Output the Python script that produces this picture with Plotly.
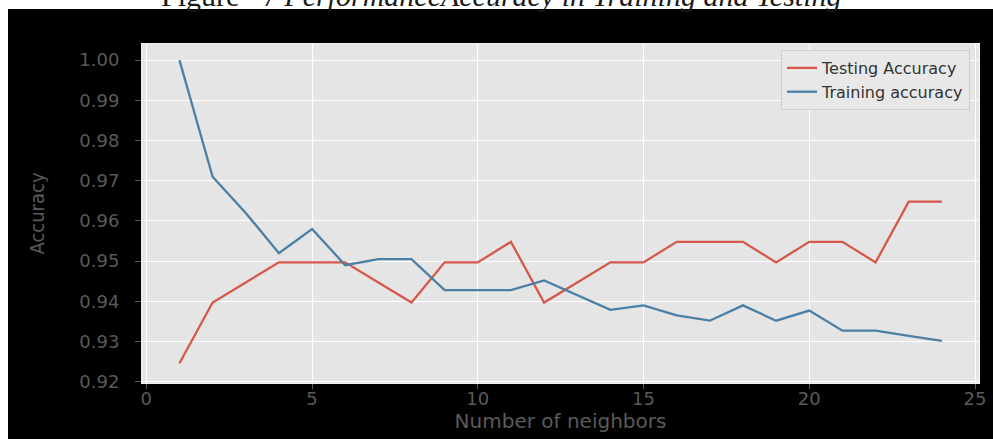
import plotly.graph_objects as go

neighbors = list(range(1, 25))
testing_accuracy = [0.9246, 0.9397, 0.9447, 0.9497, 0.9497, 0.9497, 0.9447, 0.9397,
                    0.9497, 0.9497, 0.9548, 0.9397, 0.9447, 0.9497, 0.9497, 0.9548,
                    0.9548, 0.9548, 0.9497, 0.9548, 0.9548, 0.9497, 0.9648, 0.9648]
training_accuracy = [1.0000, 0.9710, 0.9620, 0.9520, 0.9580, 0.9490, 0.9505, 0.9505,
                     0.9428, 0.9428, 0.9428, 0.9452, 0.9415, 0.9379, 0.9390, 0.9365,
                     0.9352, 0.9390, 0.9352, 0.9377, 0.9327, 0.9327, 0.9314, 0.9302]
x_ticks = [0, 5, 10, 15, 20, 25]
y_ticks = [0.92, 0.93, 0.94, 0.95, 0.96, 0.97, 0.98, 0.99, 1.00]

W, H = 993, 439
L, R, T, B = 142, 14, 44, 56
pw, ph = W - L - R, H - T - B

def px_x(p):
    return (p - L) / pw

def px_y(p):
    return (H - B - p) / ph

fig = go.Figure()
fig.add_trace(go.Scatter(x=neighbors, y=testing_accuracy, mode="lines",
                         name="Testing Accuracy",
                         line=dict(color="#D5584A", width=2.3)))
fig.add_trace(go.Scatter(x=neighbors, y=training_accuracy, mode="lines",
                         name="Training accuracy",
                         line=dict(color="#4A7FA6", width=2.3)))

tick_font = dict(family="DejaVu Sans", size=18, color="#5a5a5a")

fig.update_layout(
    width=W, height=H,
    margin=dict(l=L, r=R, t=T, b=B, autoexpand=False),
    paper_bgcolor="black",
    plot_bgcolor="#E5E5E5",
    showlegend=True,
    legend=dict(x=px_x(970), y=px_y(50), xanchor="right", yanchor="top",
                bgcolor="#E8E8E8", bordercolor="#CFCFCF", borderwidth=1,
                font=dict(family="DejaVu Sans", size=16, color="#333333"),
                tracegroupgap=0),
    xaxis=dict(range=[-0.13, 25.12], tickvals=x_ticks, ticktext=[str(v) for v in x_ticks],
               showgrid=True, gridcolor="white", gridwidth=1.2, zeroline=False,
               ticks="outside", ticklen=5, tickcolor="#5a5a5a", tickwidth=1,
               tickfont=tick_font, ticklabelstandoff=-6,
               showline=True, linecolor="#F2F2F2", linewidth=1, mirror=True,
               title=dict(text="Number of neighbors", standoff=6,
                          font=dict(family="DejaVu Sans", size=20, color="#5a5a5a")),
               automargin=False),
    yaxis=dict(range=[0.9197, 1.004], tickvals=y_ticks, tickformat=".2f",
               showgrid=True, gridcolor="white", gridwidth=1.2, zeroline=False,
               ticks="outside", ticklen=6, tickcolor="#5a5a5a", tickwidth=1,
               tickfont=tick_font, ticklabelstandoff=12,
               showline=True, linecolor="#F2F2F2", linewidth=1, mirror=True,
               title=dict(text="Accuracy", standoff=29,
                          font=dict(family="DejaVu Sans Condensed", size=20, color="#5a5a5a")),
               automargin=False),
    shapes=[
        dict(type="rect", xref="paper", yref="paper", layer="above",
             x0=px_x(-5), x1=px_x(W + 5), y0=px_y(9), y1=px_y(-5),
             fillcolor="white", line=dict(width=0)),
        dict(type="rect", xref="paper", yref="paper", layer="above",
             x0=px_x(-5), x1=px_x(8), y0=px_y(H + 5), y1=px_y(-5),
             fillcolor="white", line=dict(width=0)),
    ],
    annotations=[
        dict(text="Figure   7 <i>PerformanceAccuracy in Training and Testing</i>",
             xref="paper", yref="paper", x=px_x(501), y=px_y(13),
             xanchor="center", yanchor="bottom", showarrow=False,
             font=dict(family="Liberation Serif", size=30, color="#1a1a1a"),
             borderpad=0),
    ],
)

fig.write_html("out.html")
